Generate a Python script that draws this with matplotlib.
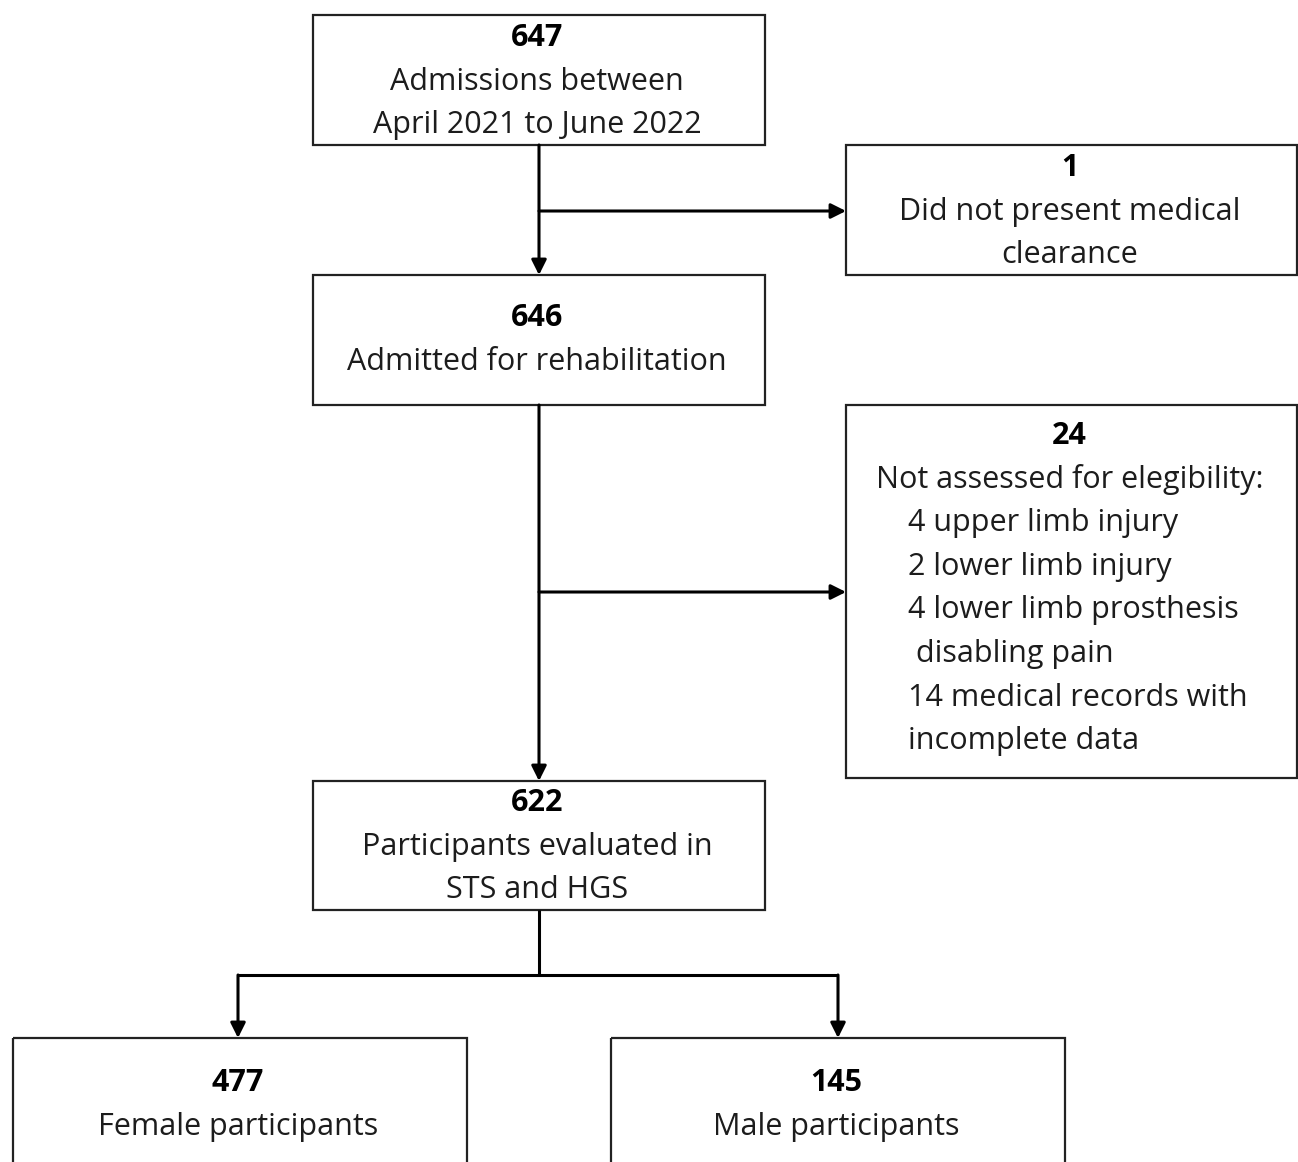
import matplotlib
matplotlib.use("Agg")
import matplotlib.pyplot as plt
from matplotlib.patches import Rectangle

# flow chart content
counts      = ["647", "1", "646", "24", "622", "477", "145"]
captions    = [
    ["Admissions between", "April 2021 to June 2022"],
    ["Did not present medical", "clearance"],
    ["Admitted for rehabilitation"],
    ["Not assessed for elegibility:"],
    ["Participants evaluated in", "STS and HGS"],
    ["Female participants"],
    ["Male participants"],
]
excl_items  = ["4 upper limb injury", "2 lower limb injury", "4 lower limb prosthesis",
               " disabling pain", "14 medical records with", "incomplete data"]

# layout in pixels (x0, y0, x1, y1), y grows downward
boxes = [
    (313, 15, 765, 145),
    (846, 145, 1297, 275),
    (313, 275, 765, 405),
    (846, 405, 1297, 778),
    (313, 781, 765, 910),
    (13, 1038, 467, 1175),
    (611, 1038, 1065, 1175),
]
first_line  = [38, 168, 318, 436, 803, 1083, 1083]
line_step   = 43.6
font        = "Open Sans"
fsize       = 22
txt_color   = "#1c1c1c"

W, H = 1298, 1162
fig = plt.figure(figsize=(W / 100, H / 100), dpi=100)
ax = fig.add_axes([0, 0, 1, 1])
ax.set_xlim(0, W)
ax.set_ylim(H, 0)
ax.axis("off")

for i, (x0, y0, x1, y1) in enumerate(boxes):
    ax.add_patch(Rectangle((x0, y0), x1 - x0, y1 - y0, fill=False,
                           edgecolor="#222222", linewidth=1.6))
    cx = (x0 + x1) / 2 - 2
    y = first_line[i]
    ax.text(cx, y, counts[i], ha="center", va="center", fontsize=fsize,
            fontweight="bold", family=font, color="black")
    for line in captions[i]:
        y += line_step
        ax.text(cx, y, line, ha="center", va="center", fontsize=fsize,
                family=font, color=txt_color)

# exclusion list in the tall box, left aligned
y = first_line[3] + line_step
for item in excl_items:
    y += line_step
    ax.text(908, y, item, ha="left", va="center", fontsize=fsize,
            family=font, color=txt_color)

def line(xs, ys):
    ax.plot(xs, ys, color="black", linewidth=2.2, solid_capstyle="butt")

def arrow(x0, y0, x1, y1):
    ax.annotate("", xy=(x1, y1), xytext=(x0, y0),
                arrowprops=dict(arrowstyle="-|>,head_length=0.9,head_width=0.45",
                                color="black", linewidth=2.2,
                                shrinkA=0, shrinkB=0))

trunk_x = 539
arrow(trunk_x, 145, trunk_x, 275)
arrow(trunk_x, 211, 846, 211)
arrow(trunk_x, 405, trunk_x, 781)
arrow(trunk_x, 592, 846, 592)
line([trunk_x, trunk_x], [910, 975])
line([238, 838], [975, 975])
arrow(238, 975, 238, 1038)
arrow(838, 975, 838, 1038)

fig.savefig("out.png", dpi=100, facecolor="white")
